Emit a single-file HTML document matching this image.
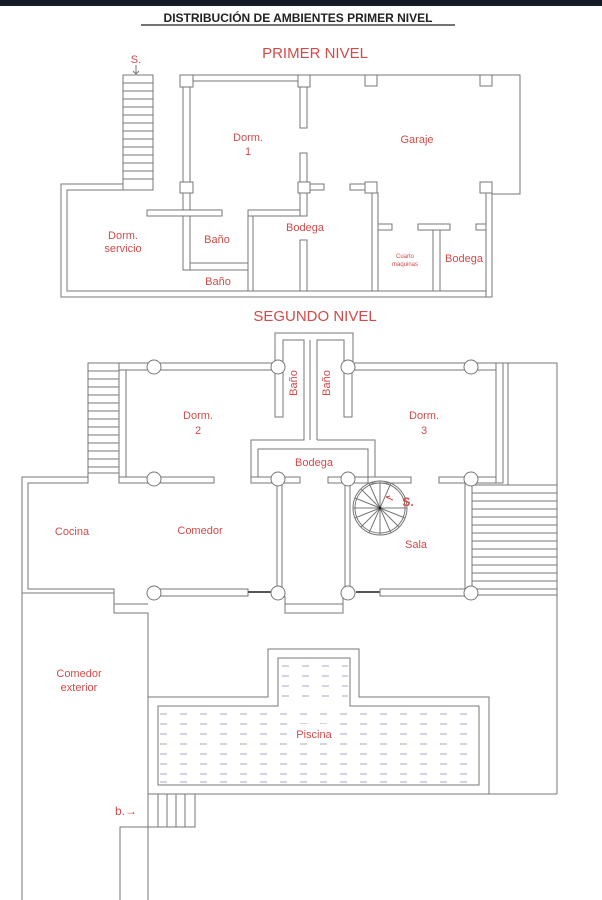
<!DOCTYPE html>
<html><head><meta charset="utf-8"><style>
html,body{margin:0;padding:0;background:#fff;width:602px;height:900px;overflow:hidden}
svg{display:block}
.w{fill:#fff;stroke:#777;stroke-width:1}
.l{stroke:#777;stroke-width:1;fill:none}
.c{fill:#fff;stroke:#777;stroke-width:1}
text{font-family:"Liberation Sans",sans-serif;fill:#d24a4a;text-anchor:middle}
</style></head><body>
<svg width="602" height="900" viewBox="0 0 602 900">
<rect x="0" y="0" width="602" height="6" fill="#141a26"/>
<text x="298" y="22" style="font-size:12px;font-weight:bold;fill:#222" >DISTRIBUCIÓN DE AMBIENTES PRIMER NIVEL</text>
<line x1="141" y1="25" x2="455" y2="25" stroke="#222" stroke-width="1.2"/>

<!-- LEVEL 1 -->
<text x="315" y="58" style="font-size:15px">PRIMER NIVEL</text>
<text x="136" y="63" style="font-size:11px">S.</text>
<path d="M136 65 V74 M133 71 L136 74 L139 71" class="l" stroke="#d24a4a"/>
<!-- stairs -->
<rect x="123" y="75" width="30" height="115" class="w"/>
<g class="l">
<path d="M123 83H153M123 91H153M123 99H153M123 107H153M123 115H153M123 123H153M123 131H153M123 139H153M123 147H153M123 155H153M123 163H153M123 171H153M123 179H153"/>
<!-- outer shell -->
<path d="M123 184 H61 V297 H492 V194 H520 V75 H310"/>
<path d="M123 190 H67 V291 H486 V230"/>
</g>
<rect x="180" y="75" width="123" height="6" class="w"/>
<rect x="183" y="87" width="7" height="183" class="w"/>
<rect x="147" y="210" width="75" height="6" class="w"/>
<path d="M190 216 V263 H248 M183 270 H248 V291" class="l"/>
<rect x="248" y="210" width="59" height="6" class="w"/>
<rect x="248" y="216" width="5" height="75" class="w"/>
<rect x="300" y="187" width="7" height="29" class="w"/>
<rect x="300" y="87" width="7" height="41" class="w"/>
<rect x="300" y="153" width="7" height="30" class="w"/>
<rect x="300" y="240" width="7" height="51" class="w"/>
<rect x="310" y="184" width="14" height="6" class="w"/>
<rect x="350" y="184" width="15" height="6" class="w"/>
<rect x="372" y="193" width="6" height="98" class="w"/>
<rect x="378" y="224" width="14" height="6" class="w"/>
<rect x="418" y="224" width="32" height="6" class="w"/>
<rect x="433" y="230" width="7" height="61" class="w"/>
<rect x="476" y="224" width="10" height="6" class="w"/>
<rect x="486" y="193" width="6" height="104" class="w"/>
<rect x="180" y="75" width="13" height="12" class="w"/>
<rect x="298" y="75" width="12" height="12" class="w"/>
<rect x="365" y="75" width="12" height="11" class="w"/>
<rect x="480" y="75" width="12" height="11" class="w"/>
<rect x="180" y="182" width="13" height="11" class="w"/>
<rect x="298" y="182" width="12" height="11" class="w"/>
<rect x="365" y="182" width="12" height="11" class="w"/>
<rect x="480" y="182" width="12" height="11" class="w"/>
<g style="font-size:11px">
<text x="248" y="141">Dorm.</text><text x="248" y="155">1</text>
<text x="417" y="143">Garaje</text>
<text x="123" y="239">Dorm.</text><text x="123" y="252">servicio</text>
<text x="217" y="243">Baño</text>
<text x="305" y="231">Bodega</text>
<text x="464" y="262">Bodega</text>
<text x="218" y="285">Baño</text>
</g>
<text x="405" y="258" style="font-size:6px">Cuarto</text><text x="405" y="266" style="font-size:6px">maquinas</text>

<!-- LEVEL 2 -->
<text x="315" y="321" style="font-size:15px">SEGUNDO NIVEL</text>
<rect x="88" y="363" width="31" height="110" class="w"/>
<path class="l" d="M88 371H119M88 379H119M88 387H119M88 395H119M88 403H119M88 411H119M88 419H119M88 427H119M88 435H119M88 443H119M88 451H119M88 459H119M88 467H119"/>
<!-- outer left shell -->
<path class="l" d="M88 473 V477 H22 V900 M88 473 V483 H28 V589 H114 V613 H148 V900 M22 593 H114"/>
<rect x="119" y="363" width="7" height="120" class="w"/>
<rect x="119" y="363" width="156" height="7" class="w"/>
<rect x="119" y="477" width="95" height="6" class="w"/>
<rect x="251" y="477" width="49" height="6" class="w"/>
<rect x="328" y="477" width="41" height="6" class="w"/>
<rect x="368" y="477" width="43" height="6" class="w"/>
<rect x="439" y="477" width="64" height="6" class="w"/>
<rect x="353" y="363" width="150" height="7" class="w"/>
<rect x="496" y="363" width="7" height="120" class="w"/>
<!-- baños -->
<path class="l" d="M275 363 V333 H353 V363 M283 370 V340 H304 V440 H251 V477 M258 477 V449 H368 V477 M310 440 V340 M317 440 V340 H344 V370 M317 440 H375 V477"/>
<rect x="275" y="363" width="8" height="54" class="w"/>
<rect x="344" y="363" width="8" height="54" class="w"/>
<!-- verticals -->
<line x1="277" y1="483" x2="277" y2="593" class="l"/><line x1="282" y1="483" x2="282" y2="593" class="l"/>
<line x1="345" y1="483" x2="345" y2="593" class="l"/><line x1="350" y1="483" x2="350" y2="593" class="l"/>
<rect x="465" y="480" width="7" height="113" class="w"/>
<!-- right outer -->
<path class="l" d="M503 363 H557 V794 M508 363 V485"/>
<rect x="472" y="485" width="85" height="110" class="w"/>
<path class="l" d="M472 493H557M472 501H557M472 509H557M472 517H557M472 525H557M472 533H557M472 541H557M472 549H557M472 557H557M472 565H557M472 573H557M472 581H557M472 589H557"/>
<!-- bottom wall -->
<rect x="28" y="589" width="86" height="0" class="w"/>
<rect x="148" y="589" width="100" height="7" class="w"/>
<line x1="248" y1="592" x2="274" y2="592" stroke="#555" stroke-width="2"/>
<line x1="356" y1="592" x2="380" y2="592" stroke="#555" stroke-width="2"/>
<rect x="380" y="589" width="91" height="7" class="w"/>
<path class="l" d="M285 596 V613 H343 V596 M285 604 H343"/>
<path class="l" d="M114 604 H148"/>
<!-- columns -->
<g class="c">
<circle cx="154" cy="367" r="7"/><circle cx="278" cy="367" r="7"/><circle cx="348" cy="367" r="7"/><circle cx="471" cy="367" r="7"/>
<circle cx="154" cy="479" r="7"/><circle cx="278" cy="479" r="7"/><circle cx="348" cy="479" r="7"/><circle cx="471" cy="479" r="7"/>
<circle cx="154" cy="593" r="7"/><circle cx="278" cy="593" r="7"/><circle cx="348" cy="593" r="7"/><circle cx="471" cy="593" r="7"/>
</g>
<!-- spiral -->
<g class="l">
<circle cx="380" cy="508" r="27"/><circle cx="380" cy="508" r="25"/>
<path d="M380 508L380 481M380 508L391 483M380 508L353 508M380 508L407 508M380 508L380 535M380 508L361 489M380 508L399 527M380 508L361 527M380 508L369 483M380 508L355 498M380 508L355 518M380 508L369 533M380 508L391 533M380 508L405 518"/>
</g>
<circle cx="380" cy="508" r="1.5" fill="#222"/>
<path d="M386 497 L393 500 M386 497 L390 496" stroke="#d24a4a" fill="none"/>
<!-- pool area -->
<path class="l" d="M148 794 H557 M148 697 H268 V649 H359 V697 H489 V794 M148 827 H120 V900"/>
<path class="l" d="M158 706 H278 V658 H350 V706 H479 V785 H158 Z"/>
<g stroke="#a4a8c4" stroke-width="1">
<path stroke-dasharray="7 13" d="M160 714H478M160 724H478M160 734H478M160 744H478M160 754H478M160 764H478M160 774H478M160 782H478M282 666H348M282 676H348M282 686H348M282 696H348"/>
</g>
<rect x="295" y="724" width="40" height="16" fill="#fff"/>
<rect x="148" y="794" width="47" height="33" class="w"/>
<path class="l" d="M158 794V827M167 794V827M176 794V827M185 794V827"/>
<g style="font-size:11px">
<text x="198" y="419">Dorm.</text><text x="198" y="434">2</text>
<text x="424" y="419">Dorm.</text><text x="424" y="434">3</text>
<text x="314" y="466">Bodega</text>
<text x="72" y="535">Cocina</text>
<text x="200" y="534">Comedor</text>
<text x="416" y="548">Sala</text>
<text x="79" y="677">Comedor</text><text x="79" y="691">exterior</text>
<text x="314" y="738">Piscina</text>
<text x="297" y="383" transform="rotate(-90 297 383)">Baño</text>
<text x="330" y="383" transform="rotate(-90 330 383)">Baño</text>
</g>
<text x="408" y="506" style="font-size:12px;font-weight:bold">S.</text>
<text x="126" y="815" style="font-size:12px">b.→</text>
</svg>
</body></html>
